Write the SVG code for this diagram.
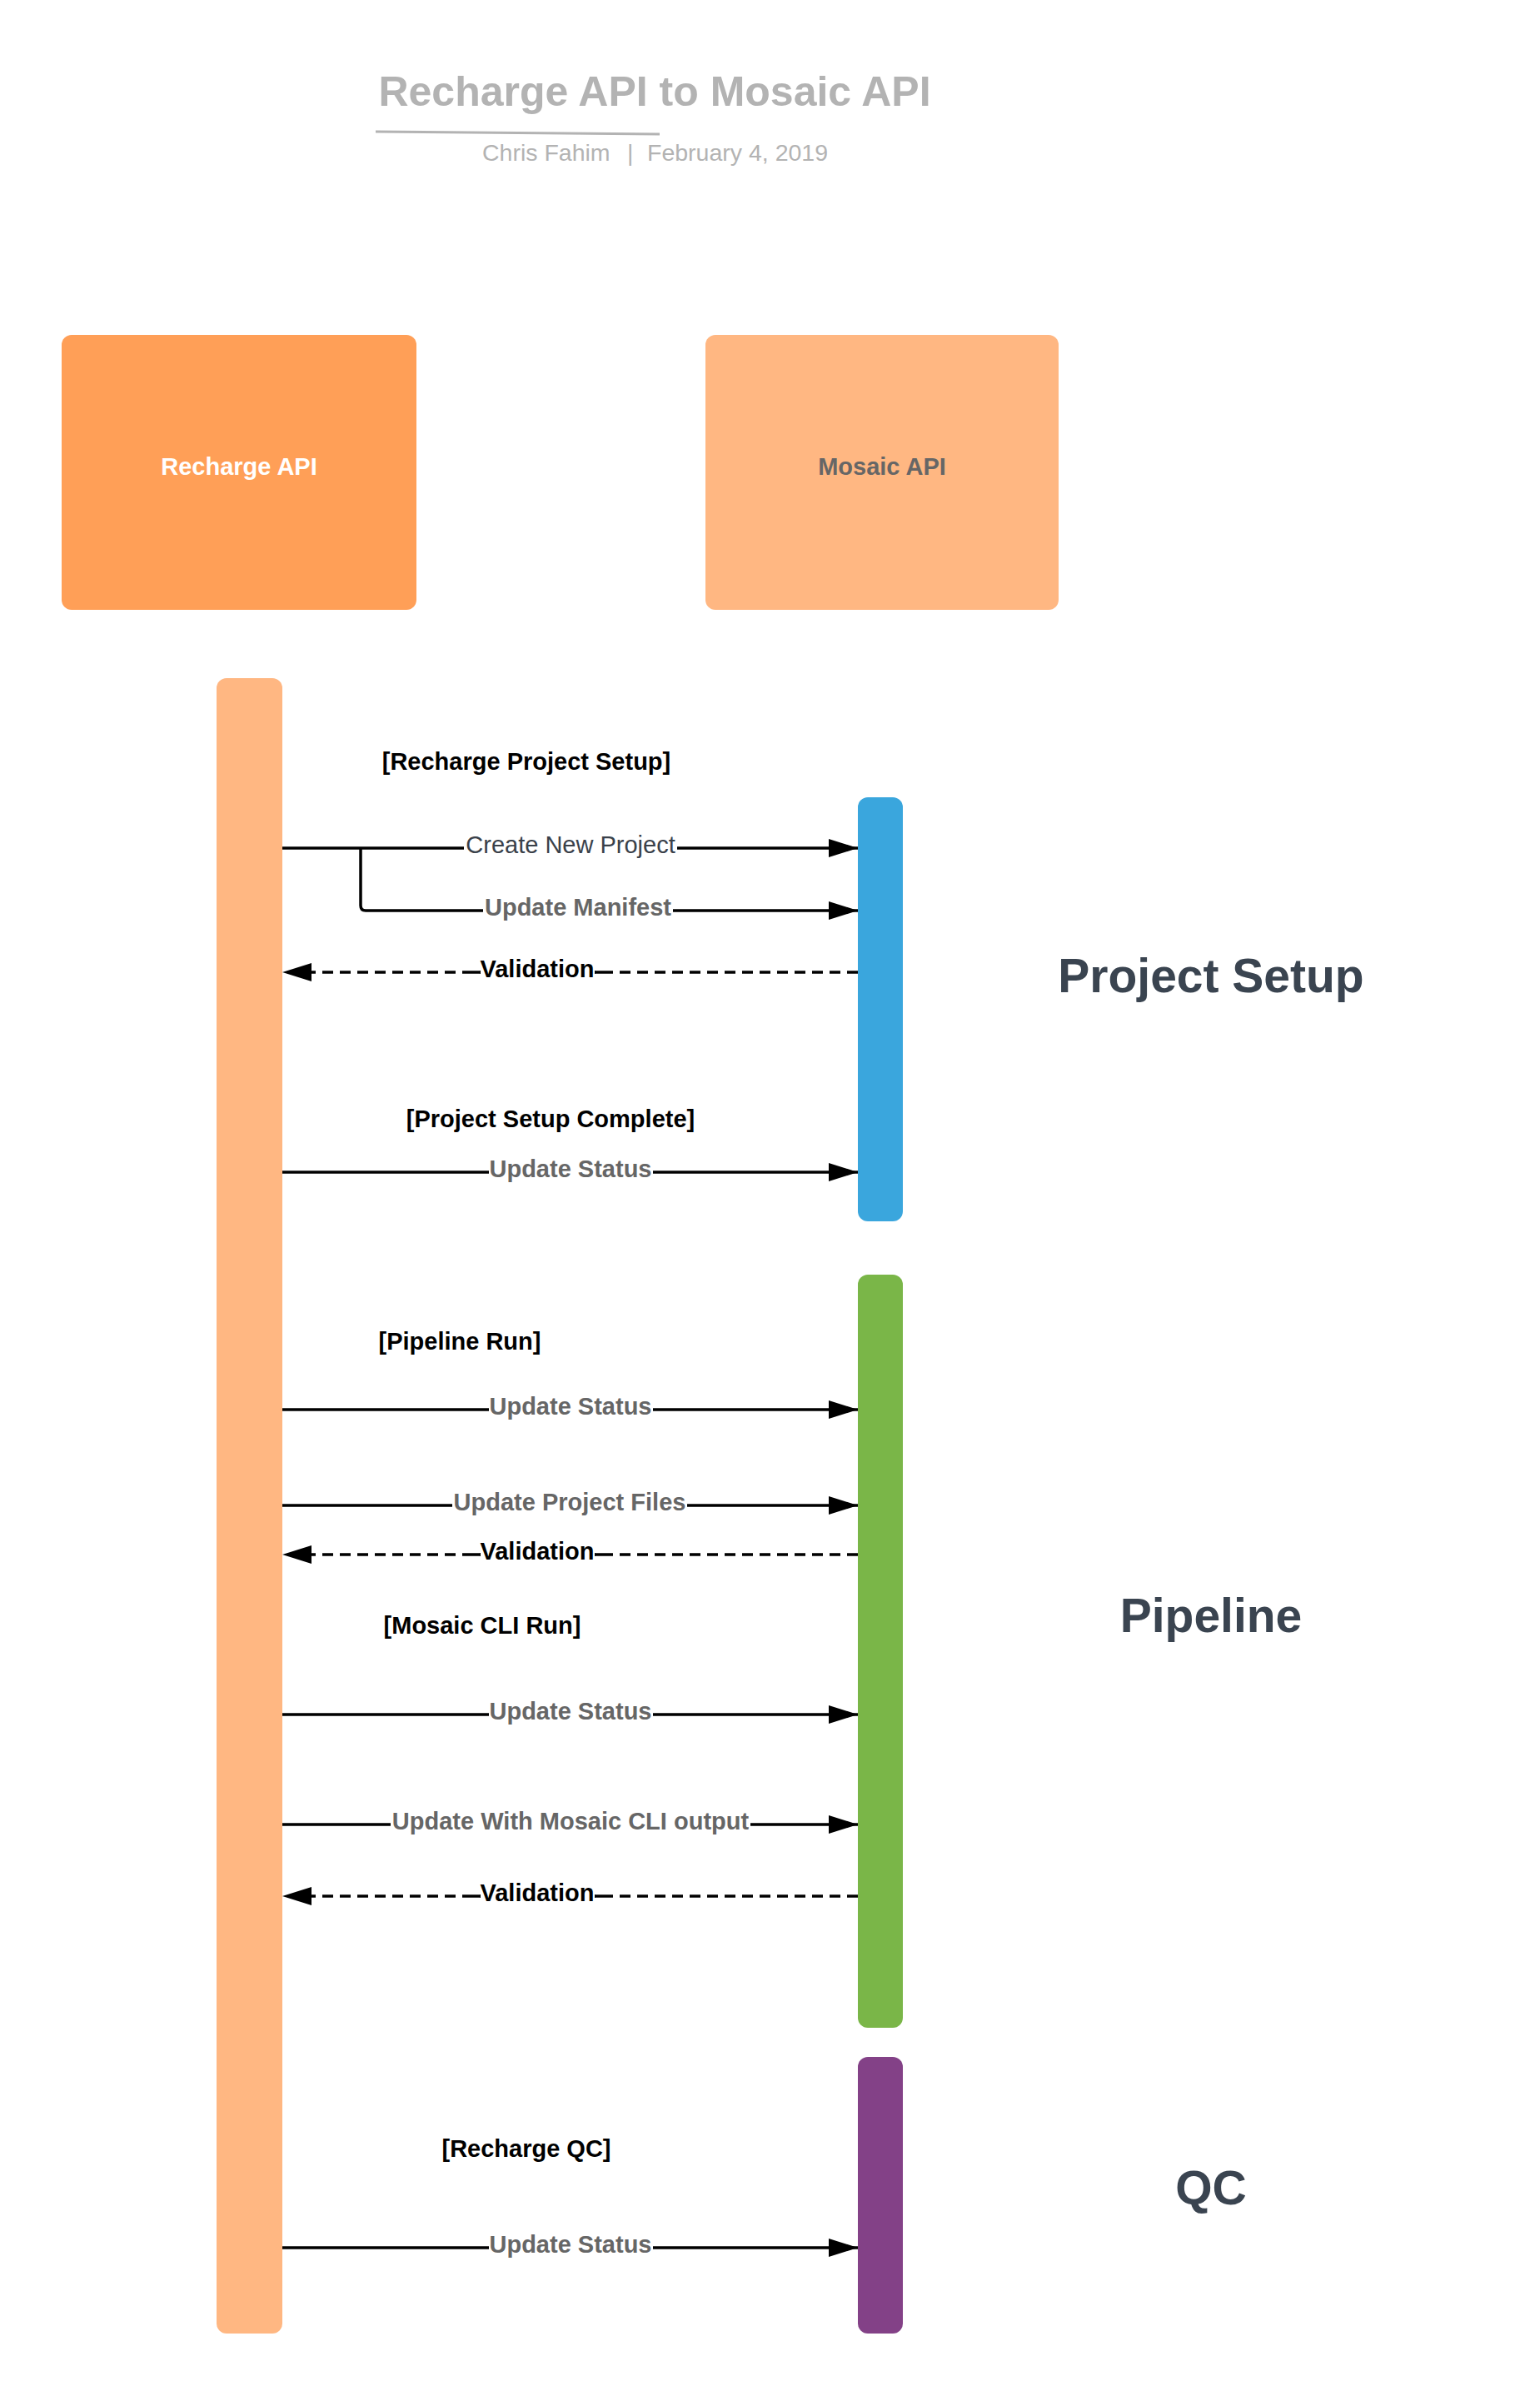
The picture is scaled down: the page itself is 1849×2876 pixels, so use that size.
<svg xmlns="http://www.w3.org/2000/svg" width="1849" height="2876" viewBox="0 0 1849 2876">
<defs>
<style>
text{font-family:"Liberation Sans",Arial,sans-serif;}
.lbl{font-size:29px;text-anchor:middle;}
.b{font-weight:bold;}
.g{fill:#666666;}
.k{fill:#000000;}
.sec{font-size:57px;font-weight:bold;fill:#3a4450;text-anchor:middle;}
.ln{stroke:#000;stroke-width:3.5;fill:none;}
.dash{stroke-dasharray:13 8;}
.bg{fill:#ffffff;}
</style>
<marker id="ah" viewBox="0 0 35 22" refX="35" refY="11" markerWidth="35" markerHeight="22" markerUnits="userSpaceOnUse" orient="auto">
<path d="M0,0 L35,11 L0,22 Z" fill="#000"/>
</marker>
</defs>
<rect width="1849" height="2876" fill="#ffffff"/>

<g id="title">
<text x="786" y="127" font-size="50" font-weight="bold" fill="#b3b3b3" text-anchor="middle">Recharge API to Mosaic API</text>
<path d="M451,158 L792,161" stroke="#b3b3b3" stroke-width="3" fill="none"/>
<text y="193" font-size="28.5" fill="#b3b3b3"><tspan x="579">Chris Fahim</tspan><tspan x="753">|</tspan><tspan x="777">February 4, 2019</tspan></text>
</g>

<g id="recharge-api">
<rect x="74" y="402" width="426" height="330" rx="12" fill="#ff9f57"/>
<text x="287" y="570" font-size="29" font-weight="bold" fill="#ffffff" text-anchor="middle">Recharge API</text>
</g>
<g id="mosaic-api">
<rect x="847" y="402" width="424" height="330" rx="12" fill="#ffb782"/>
<text x="1059" y="570" font-size="29" font-weight="bold" fill="#666666" text-anchor="middle">Mosaic API</text>
</g>

<g id="recharge-lifeline">
<rect x="260" y="814" width="79" height="1987" rx="12" fill="#ffb782"/>
</g>
<g id="activation-setup">
<rect x="1030" y="957" width="54" height="509" rx="12" fill="#3aa6dd"/>
</g>
<g id="activation-pipeline">
<rect x="1030" y="1530" width="54" height="904" rx="12" fill="#7ab648"/>
</g>
<g id="activation-qc">
<rect x="1030" y="2469" width="54" height="332" rx="12" fill="#834187"/>
</g>

<g id="section-labels">
<text class="sec" x="1454" y="1191">Project Setup</text>
<text class="sec" x="1454" y="1959">Pipeline</text>
<text class="sec" x="1454" y="2646">QC</text>
</g>

<g id="guards">
<text class="lbl b k" x="632" y="924">[Recharge Project Setup]</text>
<text class="lbl b k" x="661" y="1353">[Project Setup Complete]</text>
<text class="lbl b k" x="552" y="1620">[Pipeline Run]</text>
<text class="lbl b k" x="579" y="1961">[Mosaic CLI Run]</text>
<text class="lbl b k" x="632" y="2589">[Recharge QC]</text>
</g>

<g id="connectors">
<path class="ln" d="M339,1018 L1030,1018" marker-end="url(#ah)"/>
<path class="ln" d="M433,1018 L433,1087 Q433,1093 439,1093 L1030,1093" marker-end="url(#ah)"/>
<path class="ln dash" d="M1030,1167 L339,1167" marker-end="url(#ah)"/>
<path class="ln" d="M339,1407 L1030,1407" marker-end="url(#ah)"/>
<path class="ln" d="M339,1692 L1030,1692" marker-end="url(#ah)"/>
<path class="ln" d="M339,1807 L1030,1807" marker-end="url(#ah)"/>
<path class="ln dash" d="M1030,1866 L339,1866" marker-end="url(#ah)"/>
<path class="ln" d="M339,2058 L1030,2058" marker-end="url(#ah)"/>
<path class="ln" d="M339,2190 L1030,2190" marker-end="url(#ah)"/>
<path class="ln dash" d="M1030,2276 L339,2276" marker-end="url(#ah)"/>
<path class="ln" d="M339,2698 L1030,2698" marker-end="url(#ah)"/>

<rect class="bg" x="557" y="1000" width="256" height="34"/>
<text class="lbl" x="685" y="1024" fill="#3a414a">Create New Project</text>
<rect class="bg" x="580" y="1075" width="228" height="34"/>
<text class="lbl b g" x="694" y="1099">Update Manifest</text>
<path d="M568,1167 L578,1167 M713,1167 L723,1167 M568,1866 L578,1866 M713,1866 L723,1866 M568,2276 L578,2276 M713,2276 L723,2276" stroke="#000" stroke-width="3.5"/>
<rect class="bg" x="577" y="1149" width="137" height="34"/>
<text class="lbl b k" x="645" y="1173">Validation</text>
<rect class="bg" x="587" y="1389" width="197" height="34"/>
<text class="lbl b g" x="685" y="1413">Update Status</text>
<rect class="bg" x="587" y="1674" width="197" height="34"/>
<text class="lbl b g" x="685" y="1698">Update Status</text>
<rect class="bg" x="543" y="1789" width="282" height="34"/>
<text class="lbl b g" x="684" y="1813">Update Project Files</text>
<rect class="bg" x="577" y="1848" width="137" height="34"/>
<text class="lbl b k" x="645" y="1872">Validation</text>
<rect class="bg" x="587" y="2040" width="197" height="34"/>
<text class="lbl b g" x="685" y="2064">Update Status</text>
<rect class="bg" x="469" y="2172" width="432" height="34"/>
<text class="lbl b g" x="685" y="2196">Update With Mosaic CLI output</text>
<rect class="bg" x="577" y="2258" width="137" height="34"/>
<text class="lbl b k" x="645" y="2282">Validation</text>
<rect class="bg" x="587" y="2680" width="197" height="34"/>
<text class="lbl b g" x="685" y="2704">Update Status</text>
</g>
</svg>
